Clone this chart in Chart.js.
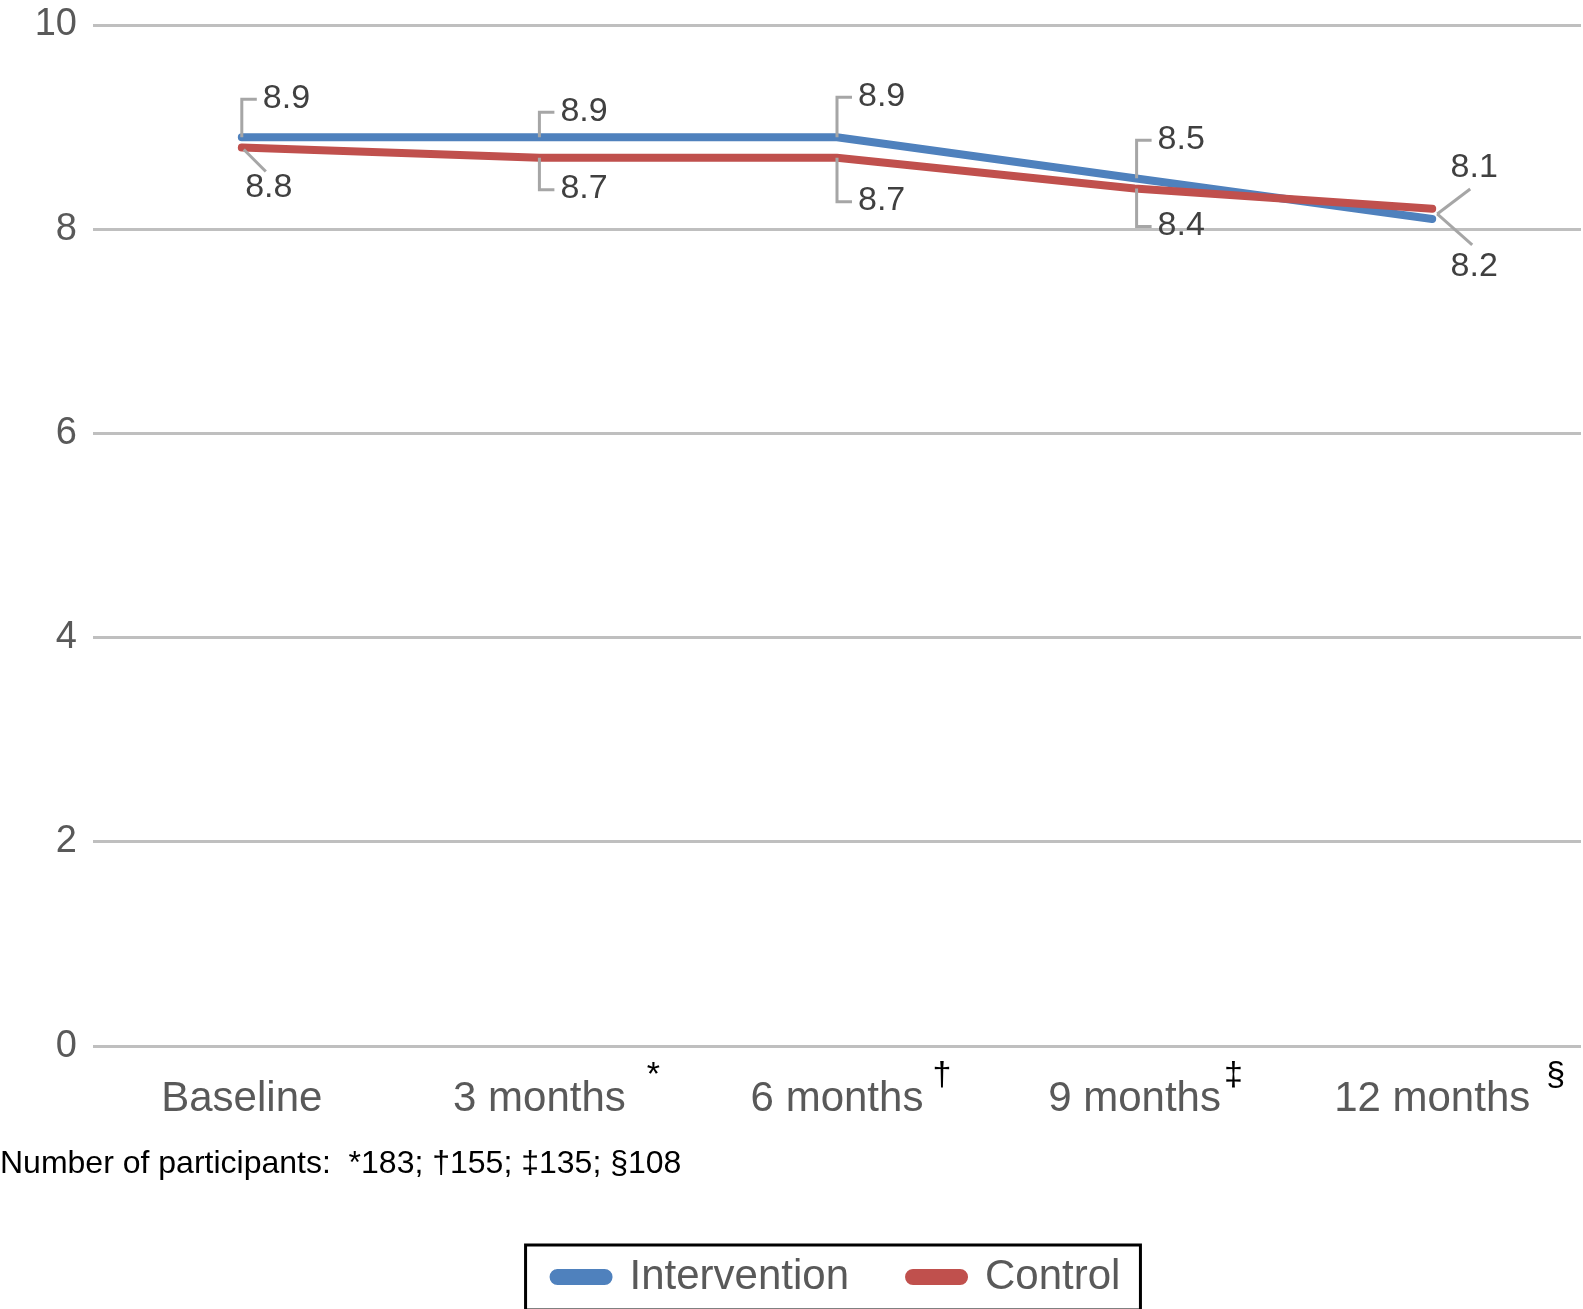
<!DOCTYPE html>
<html>
<head>
<meta charset="utf-8">
<script src="https://cdn.jsdelivr.net/npm/chart.js@4.4.0/dist/chart.umd.min.js"></script>
<style>
  body { margin: 0; background: #fff; }
  #wrap { width: 1583px; height: 1309px; }
</style>
</head>
<body>
<div id="wrap"><canvas id="myChart"></canvas></div>
<script>
var xValues = ["Baseline", "3 months", "6 months", "9 months", "12 months"];
var xMarks = ["", "*", "\u2020", "\u2021", "\u00a7"];
var intervention = [8.9, 8.9, 8.9, 8.5, 8.1];
var control = [8.8, 8.7, 8.7, 8.4, 8.2];
var yTicks = [0, 2, 4, 6, 8, 10];
var footnote = "Number of participants:  *183; \u2020155; \u2021135; \u00a7108";

var fontName = "'Liberation Sans Narrow', 'Liberation Sans', Arial, sans-serif";

// gap between a month label and its footnote mark
var markGap = [0, 21, 9, 3, 16];

// callout placement for each value label, pixels relative to its point
var intCallouts = [
  { type: "bracket", bx: 0, dy: -38 },
  { type: "bracket", bx: 0, dy: -25 },
  { type: "bracket", bx: 0, dy: -40 },
  { type: "bracket", bx: 2, dy: -38 },
  { type: "diag", ax: 5, ay: -5, ex: 38, ey: -30, tx: 42, ty: -51 }
];
var ctlCallouts = [
  { type: "diag", ax: 2, ay: 2, ex: 24, ey: 24, tx: 27, ty: 40 },
  { type: "bracket", bx: 0, dy: 32 },
  { type: "bracket", bx: 0, dy: 44 },
  { type: "bracket", bx: 2, dy: 38 },
  { type: "diag", ax: 5, ay: 5, ex: 40, ey: 36, tx: 42, ty: 58 }
];

var calloutPlugin = {
  id: "callouts",
  afterDatasetsDraw: function (chart) {
    var ctx = chart.ctx;
    var sets = [intCallouts, ctlCallouts];
    ctx.save();
    ctx.strokeStyle = "#a6a6a6";
    ctx.lineWidth = 3;
    ctx.fillStyle = "#404040";
    ctx.font = "34px " + fontName;
    ctx.textBaseline = "middle";
    chart.data.datasets.forEach(function (ds, di) {
      var meta = chart.getDatasetMeta(di);
      meta.data.forEach(function (pt, i) {
        var c = sets[di][i];
        var px = pt.x, py = pt.y;
        var txt = ds.data[i].toFixed(1);
        ctx.beginPath();
        if (c.type == "bracket") {
          ctx.moveTo(px + c.bx, py);
          ctx.lineTo(px + c.bx, py + c.dy);
          ctx.lineTo(px + c.bx + 15, py + c.dy);
          ctx.stroke();
          ctx.textAlign = "left";
          ctx.fillText(txt, px + c.bx + 21, py + c.dy - 1);
        } else {
          ctx.moveTo(px + c.ax, py + c.ay);
          ctx.lineTo(px + c.ex, py + c.ey);
          ctx.stroke();
          ctx.textAlign = "center";
          ctx.fillText(txt, px + c.tx, py + c.ty);
        }
      });
    });
    ctx.restore();
  },
  afterDraw: function (chart) {
    var ctx = chart.ctx;
    var xs = chart.scales.x;
    ctx.save();
    // superscript marks on the month labels
    ctx.font = "42px " + fontName;
    var widths = xValues.map(function (l) { return ctx.measureText(l).width; });
    ctx.font = "34px " + fontName;
    ctx.fillStyle = "#000";
    ctx.textAlign = "left";
    ctx.textBaseline = "middle";
    xValues.forEach(function (l, i) {
      if (!xMarks[i]) return;
      var x = xs.getPixelForTick(i) + widths[i] / 2 + markGap[i];
      ctx.fillText(xMarks[i], x, xs.top + 29);
    });
    // frame round the legend
    var boxes = chart.legend.legendHitBoxes;
    if (boxes && boxes.length) {
      var l = boxes[0].left - 28;
      var last = boxes[boxes.length - 1];
      var r = last.left + last.width + 20;
      var cy = boxes[0].top + boxes[0].height / 2;
      ctx.strokeStyle = "#000";
      ctx.lineWidth = 3;
      ctx.strokeRect(l, cy - 32, r - l, 65);
    }
    ctx.restore();
  }
};

new Chart("myChart", {
  type: "line",
  data: {
    labels: xValues,
    datasets: [{
      label: "Intervention",
      data: intervention,
      borderColor: "#4f81bd",
      backgroundColor: "#4f81bd",
      borderWidth: 8,
      borderCapStyle: "round",
      pointRadius: 0,
      fill: false,
      order: 1
    }, {
      label: "Control",
      data: control,
      borderColor: "#c0504d",
      backgroundColor: "#c0504d",
      borderWidth: 8,
      borderCapStyle: "round",
      pointRadius: 0,
      fill: false,
      order: 0
    }]
  },
  plugins: [calloutPlugin],
  options: {
    responsive: true,
    maintainAspectRatio: false,
    animation: false,
    layout: { padding: { top: 25, right: 2, left: 0, bottom: 1 } },
    scales: {
      x: {
        offset: true,
        grid: { display: false, drawTicks: false },
        border: { display: false },
        ticks: { font: { size: 42, family: fontName }, color: "#595959", padding: 28, maxRotation: 0 }
      },
      y: {
        min: 0,
        max: 10,
        afterBuildTicks: function (scale) {
          scale.ticks = yTicks.map(function (v) { return { value: v }; });
        },
        afterFit: function (scale) {
          scale.width = 93;
          scale.paddingTop = 0;
          scale.paddingBottom = 0;
        },
        grid: { color: "#bfbfbf", lineWidth: 3, drawTicks: false },
        border: { display: false },
        ticks: { font: { size: 38, family: fontName, lineHeight: 1 }, color: "#595959", padding: 16 }
      }
    },
    plugins: {
      tooltip: { enabled: false },
      title: {
        display: true,
        text: footnote,
        position: "bottom",
        align: "start",
        weight: 500,
        color: "#000",
        font: { size: 32, family: fontName, weight: "normal" },
        padding: { top: -8, bottom: 13 }
      },
      legend: {
        position: "bottom",
        fullSize: false,
        labels: {
          sort: function (a, b) { return a.datasetIndex - b.datasetIndex; },
          font: { size: 42, family: fontName },
          color: "#595959",
          boxWidth: 55,
          boxHeight: 8,
          useBorderRadius: true,
          borderRadius: 4,
          padding: 60
        }
      }
    }
  }
});
</script>
</body>
</html>
